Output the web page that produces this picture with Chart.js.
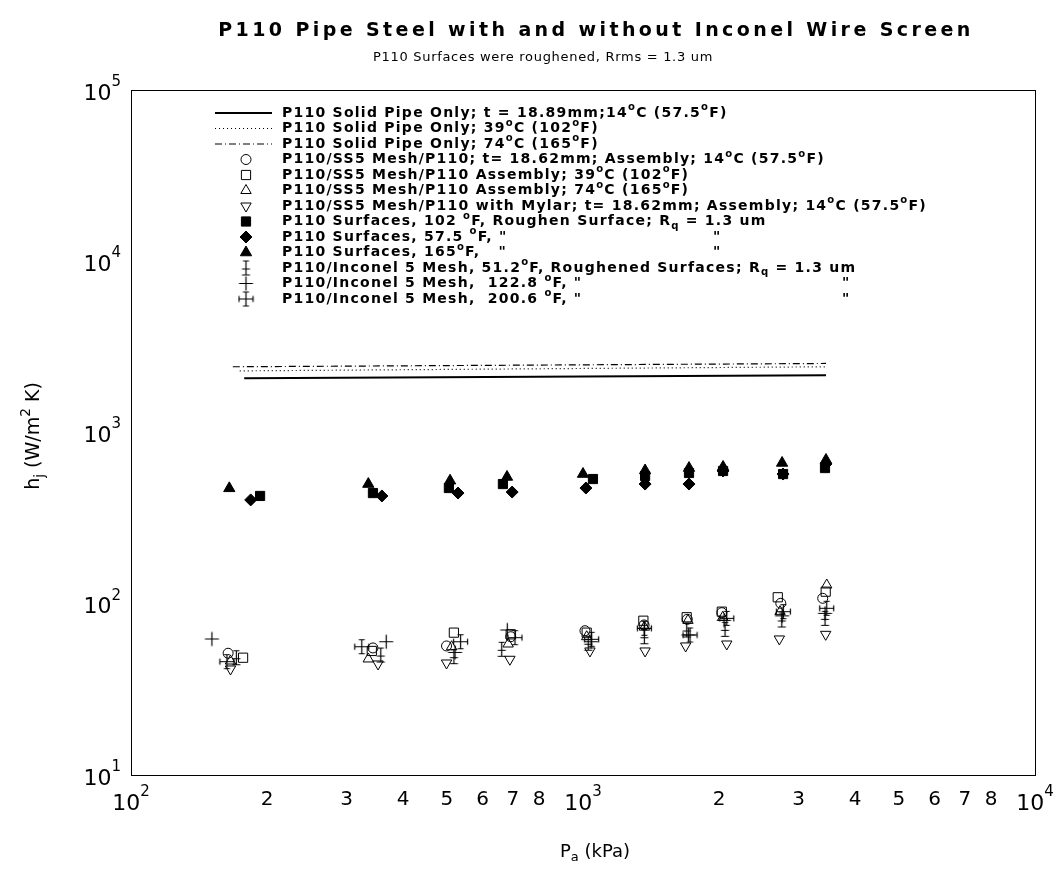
<!DOCTYPE html>
<html>
<head>
<meta charset="utf-8">
<script src="https://cdn.jsdelivr.net/npm/chart.js@4.4.0/dist/chart.umd.min.js"></script>
<style>
body { margin: 0; background: #fff; }
</style>
</head>
<body>
<canvas id="chart" width="1061" height="890"></canvas>
<script>
// massivrohr ohne einlage (linien)
const pSolid14 = [178, 3448];
const hSolid14 = [2075, 2160];
const pSolid39 = [174, 3448];
const hSolid39 = [2290, 2420];
const pSolid74 = [168, 3448];
const hSolid74 = [2420, 2530];

// SS5 netz, offene symbole
const pSS14 = [164, 343, 499, 692, 1010, 1365, 1701, 2028, 2739, 3391];
const hSS14 = [51.4, 55.2, 56.7, 64.2, 69.6, 75.2, 81.1, 88.7, 100.6, 107.6];
const pSS39 = [177, 341, 518, 692, 1019, 1360, 1696, 2028, 2697, 3443];
const hSS39 = [48.4, 53.0, 67.8, 66.3, 67.8, 79.6, 83.4, 89.9, 109.1, 117.6];
const pSS74 = [166, 335, 512, 683, 1019, 1367, 1707, 2038, 2729, 3461];
const hSS74 = [46.3, 47.6, 56.1, 58.2, 64.2, 73.0, 80.0, 83.4, 89.9, 128.7];
const pMylar = [166, 352, 499, 689, 1036, 1372, 1687, 2080, 2719, 3443];
const hMylar = [41.6, 44.5, 45.1, 47.4, 53.0, 53.0, 56.7, 58.2, 62.3, 66.3];

// gefuellte symbole, aufgeraute oberflaechen
const pRough102 = [193, 343, 505, 665, 1052, 1372, 1716, 2041, 2771, 3431];
const hRough102 = [426, 443, 474, 500, 535, 557, 580, 596, 572, 620];
const pRough57 = [184, 359, 529, 697, 1015, 1372, 1716, 2041, 2771, 3448];
const hRough57 = [404, 426, 443, 449, 474, 500, 500, 596, 572, 655];
const pRough165 = [165, 335, 508, 679, 1000, 1372, 1716, 2041, 2757, 3448];
const hRough165 = [472, 500, 523, 550, 572, 600, 620, 629, 664, 691];

// inconel netz
const pInc51 = [171, 357, 518, 661, 1027, 1367, 1696, 2062, 2753, 3431];
const hInc51 = [48.4, 50.2, 49.1, 54.2, 58.8, 64.2, 70.3, 70.9, 80.4, 82.2];
const pInc122 = [151, 367, 521, 680, 1042, 1367, 1710, 2051, 2757, 3431];
const hInc122 = [62.3, 60.0, 52.0, 70.3, 60.0, 71.9, 65.7, 80.0, 85.0, 87.9];
const pInc200 = [163, 324, 536, 707, 1045, 1367, 1725, 2080, 2775, 3461];
const hInc200 = [45.9, 56.1, 60.0, 63.4, 62.0, 71.9, 65.7, 82.2, 89.9, 94.1];

// achsenbeschriftung
const xDecades = [100, 1000, 10000];
const xMinorLabels = [2, 3, 4, 5, 6, 7, 8];
const yDecades = [10, 100, 1000, 10000, 100000];

const legendTexts = [
    'P110 Solid Pipe Only; t = 18.89mm;14^{o}C (57.5^{o}F)',
    'P110 Solid Pipe Only; 39^{o}C (102^{o}F)',
    'P110 Solid Pipe Only; 74^{o}C (165^{o}F)',
    'P110/SS5 Mesh/P110; t= 18.62mm; Assembly; 14^{o}C (57.5^{o}F)',
    'P110/SS5 Mesh/P110 Assembly; 39^{o}C (102^{o}F)',
    'P110/SS5 Mesh/P110 Assembly; 74^{o}C (165^{o}F)',
    'P110/SS5 Mesh/P110 with Mylar; t= 18.62mm; Assembly; 14^{o}C (57.5^{o}F)',
    'P110 Surfaces, 102 ^{o}F, Roughen Surface; R_{q} = 1.3 um',
    'P110 Surfaces, 57.5 ^{o}F, "',
    'P110 Surfaces, 165^{o}F,   "',
    'P110/Inconel 5 Mesh, 51.2^{o}F, Roughened Surfaces; R_{q} = 1.3 um',
    'P110/Inconel 5 Mesh,  122.8 ^{o}F, "',
    'P110/Inconel 5 Mesh,  200.6 ^{o}F, "'
];
// zweites " (ditto) weiter rechts
const legendDitto = [0, 0, 0, 0, 0, 0, 0, 0, 713, 713, 0, 842, 842];

// eigene symbole fuer die inconel reihen
function symbol(draw) {
    const c = document.createElement('canvas');
    c.width = 17;
    c.height = 17;
    const g = c.getContext('2d');
    g.strokeStyle = '#000';
    g.lineWidth = 1.2;
    g.translate(8.5, 8.5);
    g.beginPath();
    draw(g);
    g.stroke();
    return c;
}
const symInc51 = symbol(function(g) {
    g.moveTo(0, -7); g.lineTo(0, 7);
    g.moveTo(-3, -7); g.lineTo(3, -7);
    g.moveTo(-4, 7); g.lineTo(4, 7);
    g.moveTo(-4, 1); g.lineTo(4, 1);
});
const symInc122 = symbol(function(g) {
    g.moveTo(0, -7); g.lineTo(0, 7);
    g.moveTo(-7, 0); g.lineTo(7, 0);
});
const symInc200 = symbol(function(g) {
    g.moveTo(0, -7); g.lineTo(0, 7);
    g.moveTo(-7, 0); g.lineTo(7, 0);
    g.moveTo(-3, -7); g.lineTo(3, -7);
    g.moveTo(-3, 7); g.lineTo(3, 7);
    g.moveTo(-7, -3); g.lineTo(-7, 3);
    g.moveTo(7, -3); g.lineTo(7, 3);
});

function pts(xs, ys) {
    return xs.map(function(x, i) { return { x: x, y: ys[i] }; });
}

function lineSet(xs, ys, dash, width) {
    return {
        data: pts(xs, ys), showLine: true, pointRadius: 0,
        borderColor: '#000', borderWidth: width, borderDash: dash
    };
}
function markSet(xs, ys, style, radius, filled, rot) {
    return {
        data: pts(xs, ys), showLine: false,
        pointStyle: style, pointRadius: radius, pointRotation: rot || 0,
        borderColor: '#000', pointBorderWidth: 1,
        backgroundColor: filled ? '#000' : 'rgba(0,0,0,0)'
    };
}

const datasets = [
    lineSet(pSolid14, hSolid14, [], 2),
    lineSet(pSolid39, hSolid39, [1, 3], 1.2),
    lineSet(pSolid74, hSolid74, [7, 3, 1, 3], 1.2),
    markSet(pSS14, hSS14, 'circle', 5, false),
    markSet(pSS39, hSS39, 'rect', 6.5, false),
    markSet(pSS74, hSS74, 'triangle', 6, false),
    markSet(pMylar, hMylar, 'triangle', 6, false, 180),
    markSet(pRough102, hRough102, 'rect', 6.5, true),
    markSet(pRough57, hRough57, 'rectRot', 6, true),
    markSet(pRough165, hRough165, 'triangle', 6.5, true),
    markSet(pInc51, hInc51, symInc51, 8, false),
    markSet(pInc122, hInc122, symInc122, 8, false),
    markSet(pInc200, hInc200, symInc200, 8, false)
];

// text mit hoch- und tiefgestellten teilen
function richText(ctx, str, x, y, size, weight, spacing) {
    const parts = str.split(/(\^\{[^}]*\}|_\{[^}]*\})/);
    parts.forEach(function(p) {
        if (!p) return;
        let t = p, s = size, dy = 0;
        if (p.startsWith('^{')) { t = p.slice(2, -1); s = size * 0.72; dy = -size * 0.38; }
        else if (p.startsWith('_{')) { t = p.slice(2, -1); s = size * 0.72; dy = size * 0.32; }
        ctx.font = weight + ' ' + s + 'px "DejaVu Sans"';
        ctx.letterSpacing = spacing + 'px';
        ctx.fillText(t, x, y + dy);
        x += ctx.measureText(t).width;
    });
    ctx.letterSpacing = '0px';
    return x;
}
function richWidth(ctx, str, size, weight, spacing) {
    const parts = str.split(/(\^\{[^}]*\}|_\{[^}]*\})/);
    let w = 0;
    parts.forEach(function(p) {
        if (!p) return;
        let t = p, s = size;
        if (p.startsWith('^{') || p.startsWith('_{')) { t = p.slice(2, -1); s = size * 0.72; }
        ctx.font = weight + ' ' + s + 'px "DejaVu Sans"';
        ctx.letterSpacing = spacing + 'px';
        w += ctx.measureText(t).width;
    });
    ctx.letterSpacing = '0px';
    return w;
}

function legendSymbol(ctx, i, x, y) {
    const ds = datasets[i];
    ctx.save();
    ctx.strokeStyle = '#000';
    if (ds.showLine) {
        ctx.lineWidth = ds.borderWidth;
        ctx.setLineDash(ds.borderDash);
        ctx.beginPath();
        ctx.moveTo(215, y);
        ctx.lineTo(272, y);
        ctx.stroke();
    } else {
        ctx.fillStyle = ds.backgroundColor;
        ctx.lineWidth = 1;
        Chart.helpers.drawPoint(ctx, {
            pointStyle: ds.pointStyle, radius: ds.pointRadius,
            rotation: ds.pointRotation, borderWidth: 1
        }, x, y);
    }
    ctx.restore();
}

function powerLabel(ctx, e, x0, y) {
    ctx.font = '22px "DejaVu Sans"';
    const w1 = ctx.measureText('10').width;
    ctx.fillText('10', x0, y + 4);
    ctx.font = '15px "DejaVu Sans"';
    ctx.fillText(e, x0 + w1, y - 8);
}
function powerWidth(ctx, e) {
    ctx.font = '22px "DejaVu Sans"';
    const w1 = ctx.measureText('10').width;
    ctx.font = '15px "DejaVu Sans"';
    return w1 + ctx.measureText(e).width;
}

const decorations = {
    id: 'decorations',
    afterDraw: function(chart) {
        const ctx = chart.ctx;
        const a = chart.chartArea;
        const xs = chart.scales.x, ys = chart.scales.y;
        ctx.save();
        ctx.fillStyle = '#000';
        ctx.strokeStyle = '#000';

        // rahmen
        ctx.lineWidth = 1;
        ctx.strokeRect(a.left + 0.5, a.top + 0.5, a.right - a.left, a.bottom - a.top);

        // titel
        ctx.textBaseline = 'middle';
        ctx.textAlign = 'left';
        const title = 'P110 Pipe Steel with and without Inconel Wire Screen';
        ctx.font = 'bold 19px "DejaVu Sans"';
        ctx.letterSpacing = '3.4px';
        let tw = ctx.measureText(title).width;
        ctx.fillText(title, 596 - tw / 2, 31);
        const sub = 'P110 Surfaces were roughened, Rrms = 1.3 um';
        ctx.font = '13px "DejaVu Sans"';
        ctx.letterSpacing = '0.7px';
        tw = ctx.measureText(sub).width;
        ctx.fillText(sub, 543 - tw / 2, 58);
        ctx.letterSpacing = '0px';

        // y achse dekaden
        yDecades.forEach(function(v) {
            const py = ys.getPixelForValue(v);
            const e = String(Math.round(Math.log10(v)));
            powerLabel(ctx, e, a.left - 10 - powerWidth(ctx, e), py);
        });

        // x achse
        xDecades.forEach(function(v) {
            const px = xs.getPixelForValue(v);
            const e = String(Math.round(Math.log10(v)));
            powerLabel(ctx, e, px - powerWidth(ctx, e) / 2, 800);
        });
        ctx.textAlign = 'center';
        ctx.font = '20px "DejaVu Sans"';
        [100, 1000].forEach(function(dec) {
            xMinorLabels.forEach(function(m) {
                ctx.fillText(String(m), xs.getPixelForValue(dec * m), 800);
            });
        });
        ctx.textAlign = 'left';

        // achsentitel
        let w = richWidth(ctx, 'P_{a} (kPa)', 18, 'normal', 0);
        richText(ctx, 'P_{a} (kPa)', 595 - w / 2, 852, 18, 'normal', 0);
        ctx.save();
        ctx.translate(34, 436);
        ctx.rotate(-Math.PI / 2);
        w = richWidth(ctx, 'h_{j} (W/m^{2} K)', 19, 'normal', 0);
        richText(ctx, 'h_{j} (W/m^{2} K)', -w / 2, 0, 19, 'normal', 0);
        ctx.restore();

        // legende
        legendTexts.forEach(function(t, i) {
            const y = 113 + i * 15.5;
            legendSymbol(ctx, i, 246, y);
            ctx.fillStyle = '#000';
            richText(ctx, t, 282, y, 14, 'bold', 1.25);
            if (legendDitto[i]) {
                ctx.font = 'bold 14px "DejaVu Sans"';
                ctx.fillText('"', legendDitto[i], y);
            }
        });
        ctx.restore();
    }
};

new Chart(document.getElementById('chart'), {
    type: 'scatter',
    data: { datasets: datasets },
    options: {
        responsive: false,
        animation: false,
        devicePixelRatio: 1,
        layout: { padding: { left: 131, right: 26, top: 90, bottom: 115 } },
        plugins: { legend: { display: false }, tooltip: { enabled: false } },
        scales: {
            x: { type: 'logarithmic', min: 100, max: 10000, display: false },
            y: { type: 'logarithmic', min: 10, max: 100000, display: false }
        }
    },
    plugins: [decorations]
});
</script>
</body>
</html>
